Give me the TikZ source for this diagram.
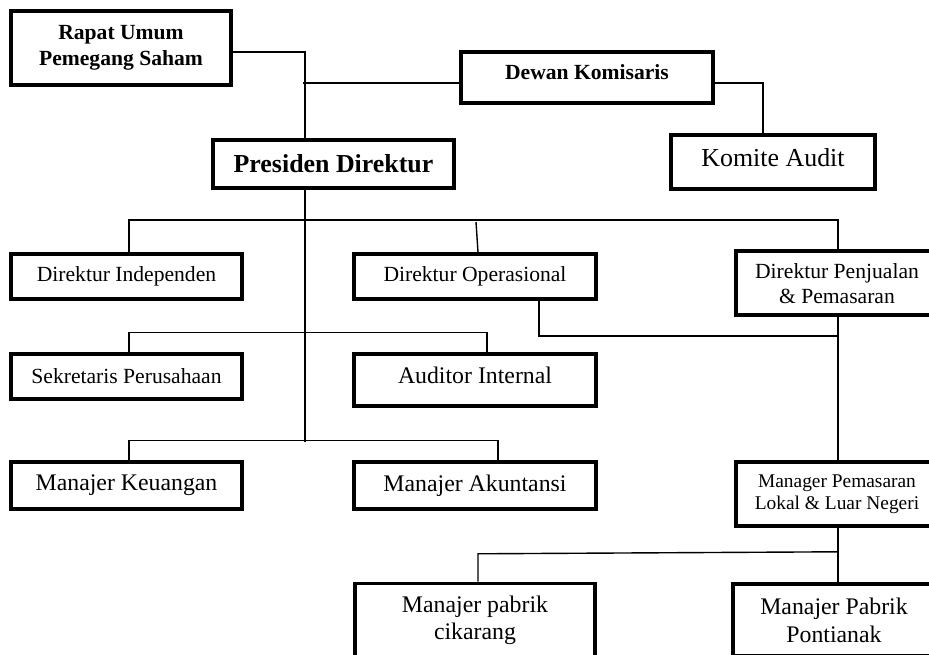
\documentclass[tikz,border=0pt]{standalone}
\usepackage{fontspec}
\setmainfont{Liberation Serif}
\newcommand\szBold{\fontsize{21.6}{26}\selectfont\bfseries}
\newcommand\szTop{\fontsize{25.9}{30}\selectfont\bfseries}
\newcommand\szBig{\fontsize{25.9}{30}\selectfont}
\newcommand\szMid{\fontsize{23.8}{27.5}\selectfont}
\newcommand\szReg{\fontsize{21.6}{25}\selectfont}
\newcommand\szSml{\fontsize{19.4}{21.5}\selectfont}
\begin{document}
\begin{tikzpicture}[x=1pt,y=-1pt,
  box/.style={draw, rectangle, line width=3.6pt, inner sep=0pt, align=center, fill=white},
  conn/.style={draw, line width=1.4pt}]
\useasboundingbox (0,0) rectangle (929,655);
\clip (0,0) rectangle (929,655);

% top level
\node[box, minimum width=220pt, minimum height=74pt, font=\szBold] (rups) at (121,48) {Rapat Umum\\Pemegang Saham};
\node[box, minimum width=241pt, minimum height=48pt, font=\szTop] (pres) at (333.5,164) {Presiden Direktur};
\node[box, minimum width=252pt, minimum height=51pt] (dewan) at (587,77.5) {};
\node[font=\szBold] (dewantxt) at ([yshift=5.5pt]dewan.center) {Dewan Komisaris};
\node[box, minimum width=204pt, minimum height=54pt] (komite) at (773,162) {};
\node[font=\szBig] (komitetxt) at ([yshift=4pt]komite.center) {Komite Audit};

% directors
\node[box, minimum width=231pt, minimum height=45pt, font=\szReg] (dirind) at (126.5,276.5) {Direktur Independen};
\node[box, minimum width=242pt, minimum height=45pt, font=\szReg] (dirop) at (475,276.5) {Direktur Operasional};
\node[box, minimum width=230pt, minimum height=64pt] (dirpj) at (851,283) {};
\node[font=\szReg, align=center] (dirpjtxt) at (837,284) {Direktur Penjualan\\\& Pemasaran};

% staff
\node[box, minimum width=231pt, minimum height=45pt, font=\szReg] (sekr) at (126.5,376.5) {Sekretaris Perusahaan};
\node[box, minimum width=242pt, minimum height=52pt] (audit) at (475,380) {};
\node[font=\szMid] (audittxt) at ([yshift=4.5pt]audit.center) {Auditor Internal};
\node[box, minimum width=231pt, minimum height=47pt, font=\szMid] (keu) at (126.5,485.5) {Manajer Keuangan};
\node[box, minimum width=242pt, minimum height=47pt, font=\szMid] (akun) at (475,485.5) {Manajer Akuntansi};
\node[box, minimum width=230pt, minimum height=64pt] (mpem) at (851,494) {};
\node[font=\szSml, align=center] (mpemtxt) at (837,494) {Manager Pemasaran\\Lokal \& Luar Negeri};

% factories
\node[box, minimum width=240pt, minimum height=74pt] (cik) at (475,620.5) {};
\node[font=\szMid, align=center] (ciktxt) at (475,620.5) {Manajer pabrik\\cikarang};
\node[box, minimum width=230pt, minimum height=72pt] (pont) at (848,620) {};
\node[font=\szMid, align=center] (ponttxt) at (834,620.5) {Manajer Pabrik\\Pontianak};

% connectors
\coordinate (j1) at (305,52);
\coordinate (tb) at (305,442);
\coordinate (opj) at (476,222);
\coordinate (pjx) at (838,0);
\draw[conn] ([yshift=-4pt]rups.east) -- (j1) -- (j1 |- pres.north);
\draw[conn] ([yshift=-5.5pt]dewan.west) -- ++(-156,0);
\draw[conn] ([yshift=-5.5pt]dewan.east) -| ([xshift=-10pt]komite.north);
\draw[conn] (j1 |- pres.south) -- (tb);
\draw[conn] ([xshift=2.5pt]dirind.north) -- ++(0,-32) -| (pjx |- dirpj.north);
\draw[conn] (opj) -- ([xshift=3pt]dirop.north);
\draw[conn] ([xshift=2.5pt]sekr.north) -- ++(0,-20) -| ([xshift=12pt]audit.north);
\draw[conn] ([xshift=64pt]dirop.south) -- ++(0,35) -- ++(299,0);
\draw[conn] (pjx |- dirpj.south) -- (pjx |- mpem.north);
\draw[conn] ([xshift=2.5pt]keu.north) -- ++(0,-20) -| ([xshift=23pt]akun.north);
\draw[conn] (pjx |- mpem.south) -- (pjx |- pont.north);
\draw[conn] ([yshift=-24pt]pjx |- mpem.south) -- ++(-360,2) -- ([xshift=3pt]cik.north);
\end{tikzpicture}
\end{document}
